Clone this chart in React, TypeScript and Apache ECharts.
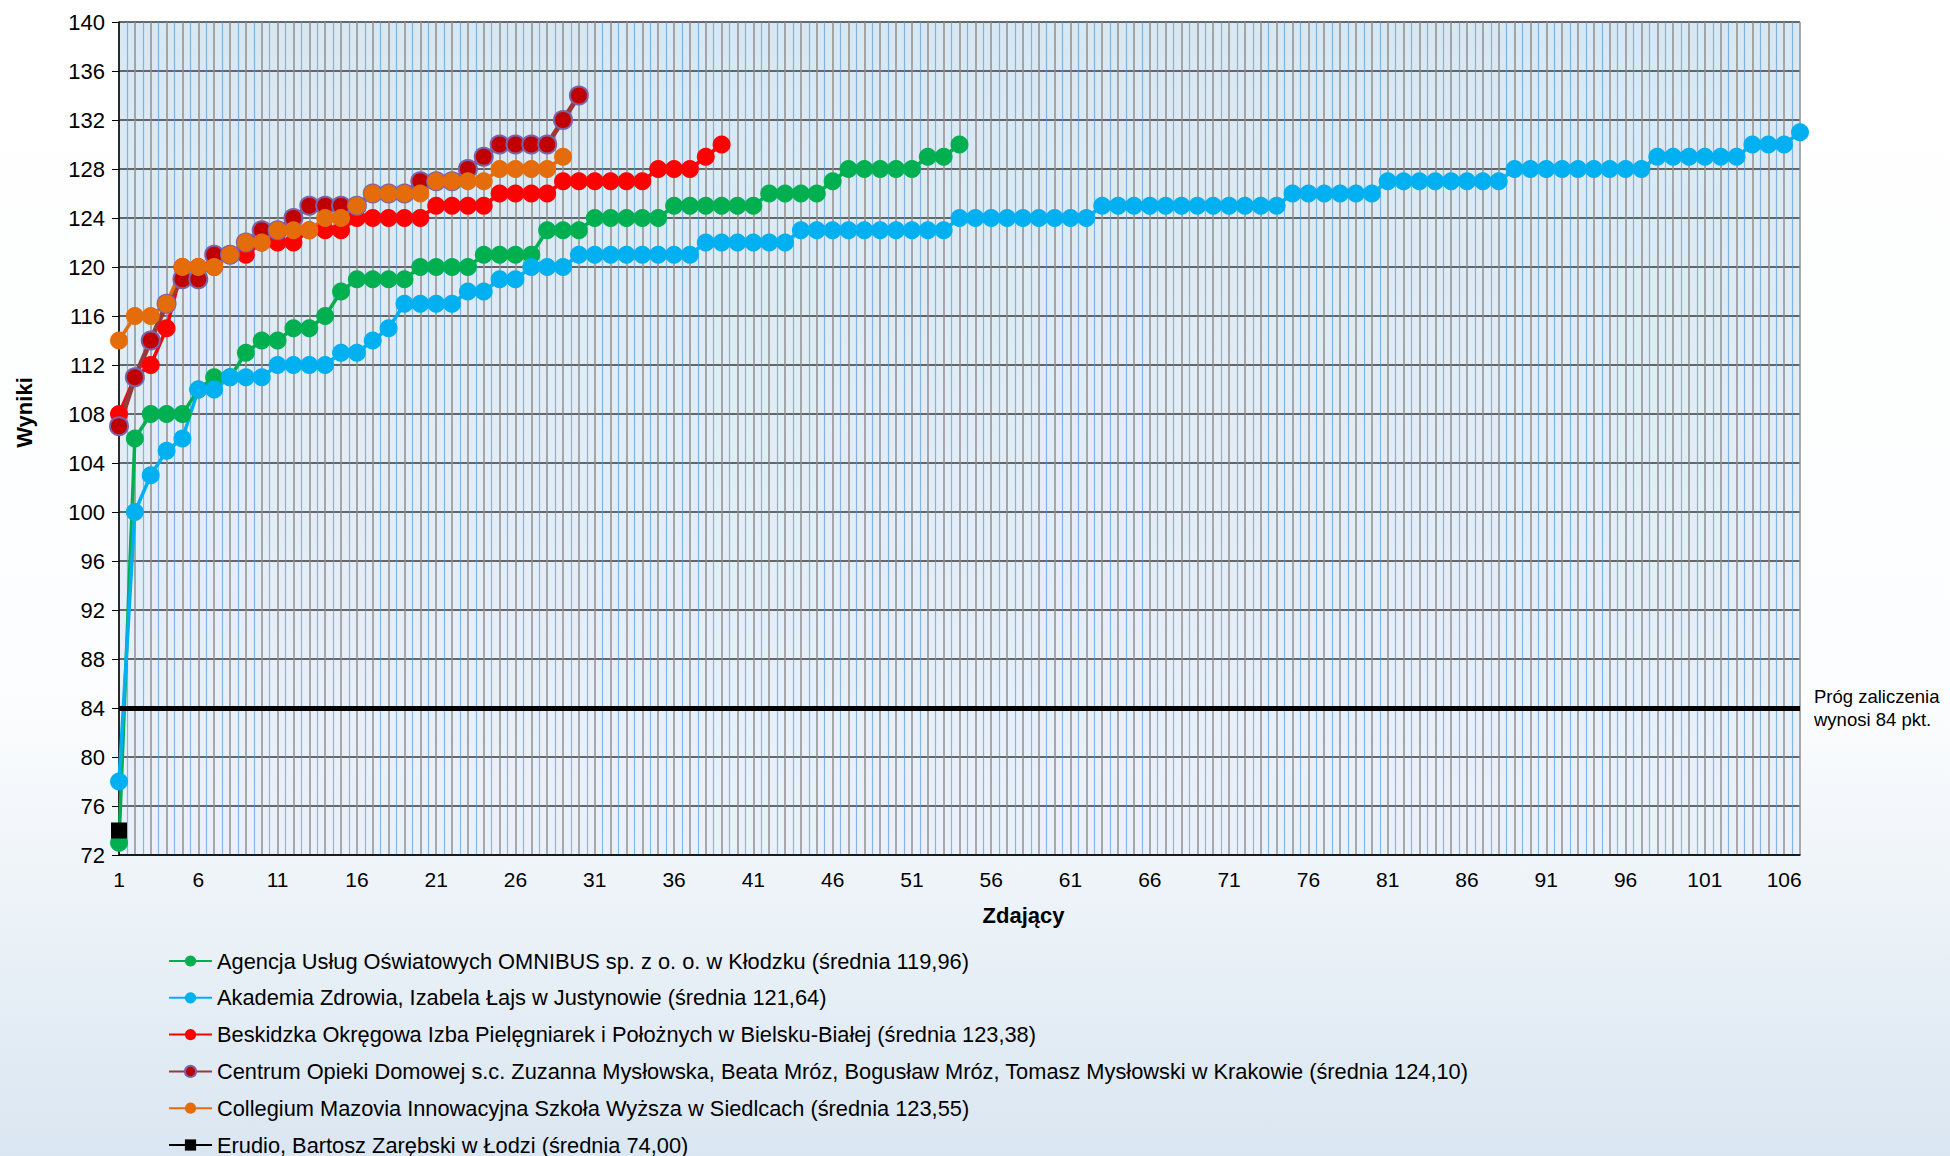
import React, { useEffect, useRef } from 'react';
import * as echarts from 'echarts';

// ---- Data ----
const SERIES_NAMES = [
  'Agencja Usług Oświatowych OMNIBUS sp. z o. o. w Kłodzku (średnia 119,96)',
  'Akademia Zdrowia, Izabela Łajs w Justynowie (średnia 121,64)',
  'Beskidzka Okręgowa Izba Pielęgniarek i Położnych w Bielsku-Białej (średnia 123,38)',
  'Centrum Opieki Domowej s.c. Zuzanna Mysłowska, Beata Mróz, Bogusław Mróz, Tomasz Mysłowski w Krakowie (średnia 124,10)',
  'Collegium Mazovia Innowacyjna Szkoła Wyższa w Siedlcach (średnia 123,55)',
  'Erudio, Bartosz Zarębski w Łodzi (średnia 74,00)',
];

const AGENCJA = [
  73, 106, 108, 108, 108, 110, 111, 111, 113, 114, 114, 115, 115, 116, 118, 119, 119, 119, 119, 120,
  120, 120, 120, 121, 121, 121, 121, 123, 123, 123, 124, 124, 124, 124, 124, 125, 125, 125, 125, 125,
  125, 126, 126, 126, 126, 127, 128, 128, 128, 128, 128, 129, 129, 130,
];

const AKADEMIA = [
  78, 100, 103, 105, 106, 110, 110, 111, 111, 111, 112, 112, 112, 112, 113, 113, 114, 115, 117, 117,
  117, 117, 118, 118, 119, 119, 120, 120, 120, 121, 121, 121, 121, 121, 121, 121, 121, 122, 122, 122,
  122, 122, 122, 123, 123, 123, 123, 123, 123, 123, 123, 123, 123, 124, 124, 124, 124, 124, 124, 124,
  124, 124, 125, 125, 125, 125, 125, 125, 125, 125, 125, 125, 125, 125, 126, 126, 126, 126, 126, 126,
  127, 127, 127, 127, 127, 127, 127, 127, 128, 128, 128, 128, 128, 128, 128, 128, 128, 129, 129, 129,
  129, 129, 129, 130, 130, 130, 131,
];

const BESKIDZKA = [
  108, 111, 112, 115, 120, 120, 120, 121, 121, 122, 122, 122, 123, 123, 123, 124, 124, 124, 124, 124,
  125, 125, 125, 125, 126, 126, 126, 126, 127, 127, 127, 127, 127, 127, 128, 128, 128, 129, 130,
];

const CENTRUM = [
  107, 111, 114, 117, 119, 119, 121, 121, 122, 123, 123, 124, 125, 125, 125, 125, 126, 126, 126, 127,
  127, 127, 128, 129, 130, 130, 130, 130, 132, 134,
];

const COLLEGIUM = [
  114, 116, 116, 117, 120, 120, 120, 121, 122, 122, 123, 123, 123, 124, 124, 125, 126, 126, 126, 126,
  127, 127, 127, 127, 128, 128, 128, 128, 129,
];

const ERUDIO = [74];

const THRESHOLD = 84;
const THRESHOLD_LABEL = 'Próg zaliczenia\nwynosi 84 pkt.';

const X_MIN = 1;
const X_MAX = 107;
const X_LABEL_STEP = 5;
const Y_MIN = 72;
const Y_MAX = 140;
const Y_STEP = 4;

const FONT = '"Liberation Sans", Arial, sans-serif';

const toPoints = (arr: number[]) => arr.map((v, i) => [i + 1, v]);

function lineSeries(name: string, data: number[], color: string, extra: any = {}) {
  return {
    name,
    type: 'line',
    data: toPoints(data),
    symbol: 'circle',
    symbolSize: 18,
    showSymbol: true,
    lineStyle: { color, width: 3.5 },
    itemStyle: { color },
    emphasis: { disabled: true },
    ...extra,
  };
}

export default function App() {
  const ref = useRef<HTMLDivElement>(null);

  useEffect(() => {
    document.body.style.margin = '0';
    document.body.style.overflow = 'hidden';
    const chart = echarts.init(ref.current!, null, { renderer: 'svg' });

    const option: any = {
      animation: false,
      backgroundColor: new echarts.graphic.LinearGradient(0, 0, 0, 1, [
        { offset: 0, color: '#ffffff' },
        { offset: 0.6, color: '#fcfdfe' },
        { offset: 1, color: '#dae6f1' },
      ]),
      grid: {
        left: 119,
        right: 150,
        top: 22,
        bottom: 301,
        show: true,
        borderWidth: 0,
        backgroundColor: new echarts.graphic.LinearGradient(0, 0, 0, 1, [
          { offset: 0, color: '#d8e8f2' },
          { offset: 1, color: '#ebf1fb' },
        ]),
      },
      legend: {
        orient: 'vertical',
        left: 163,
        top: 945,
        height: 260,
        itemWidth: 43,
        itemHeight: 14,
        itemGap: 14.8,
        data: SERIES_NAMES,
        textStyle: { fontSize: 21.8, fontFamily: FONT, color: '#000' },
      },
      xAxis: {
        type: 'value',
        min: X_MIN,
        max: X_MAX,
        interval: 1,
        name: 'Zdający',
        nameLocation: 'middle',
        nameGap: 49,
        nameTextStyle: {
          fontSize: 22,
          fontWeight: 'bold',
          fontFamily: FONT,
          color: '#000',
          padding: [0, 0, 0, 128],
        },
        axisLine: { show: true, onZero: false, lineStyle: { color: '#000', width: 1.5 } },
        axisTick: { show: false },
        axisLabel: {
          fontSize: 21,
          fontFamily: FONT,
          color: '#000',
          margin: 14,
          formatter: (v: number) => ((v - X_MIN) % X_LABEL_STEP === 0 ? String(v) : ''),
        },
        splitLine: { show: true, lineStyle: { color: '#8f8f8f', width: 1.5 } },
        minorTick: { show: false, splitNumber: 2 },
        minorSplitLine: { show: true, lineStyle: { color: '#5b9bd5', width: 1.2, opacity: 0.7 } },
      },
      yAxis: {
        type: 'value',
        min: Y_MIN,
        max: Y_MAX,
        interval: Y_STEP,
        name: 'Wyniki',
        nameLocation: 'middle',
        nameGap: 84,
        nameTextStyle: {
          fontSize: 22,
          fontWeight: 'bold',
          fontFamily: FONT,
          color: '#000',
          padding: [0, 0, 0, 52],
        },
        axisLine: { show: true, lineStyle: { color: '#000', width: 1.5 } },
        axisTick: { show: true, inside: false, length: 7, lineStyle: { color: '#000' } },
        axisLabel: { fontSize: 22, fontFamily: FONT, color: '#000', margin: 14 },
        splitLine: { show: true, lineStyle: { color: '#3a3a3a', width: 1.5 } },
      },
      series: [
        lineSeries(SERIES_NAMES[0], AGENCJA, '#00b050'),
        lineSeries(SERIES_NAMES[1], AKADEMIA, '#00b0f0'),
        lineSeries(SERIES_NAMES[2], BESKIDZKA, '#ff0000'),
        lineSeries(SERIES_NAMES[3], CENTRUM, '#c00000', {
          lineStyle: { color: '#993a3a', width: 5 },
          itemStyle: { color: '#c00000', borderColor: '#7a62a8', borderWidth: 2 },
        }),
        lineSeries(SERIES_NAMES[4], COLLEGIUM, '#e46c0a'),
        lineSeries(SERIES_NAMES[5], ERUDIO, '#000000', { symbol: 'rect', symbolSize: 16 }),
        {
          name: 'threshold',
          type: 'line',
          data: [],
          silent: true,
          markLine: {
            silent: true,
            symbol: ['none', 'none'],
            lineStyle: { color: '#000', width: 5, type: 'solid' },
            label: {
              show: true,
              position: 'end',
              distance: 14,
              formatter: THRESHOLD_LABEL,
              fontSize: 18.5,
              fontFamily: FONT,
              color: '#000',
              align: 'left',
              lineHeight: 23,
              padding: [28, 0, 0, 0],
            },
            data: [{ yAxis: THRESHOLD }],
          },
        },
      ],
    };

    chart.setOption(option);
    return () => chart.dispose();
  }, []);

  return <div ref={ref} style={{ width: 1950, height: 1156 }} />;
}
